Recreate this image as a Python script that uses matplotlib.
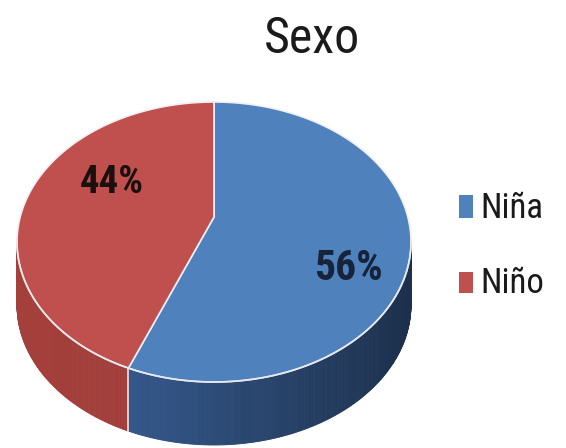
import numpy as np
import matplotlib
matplotlib.use('Agg')
import matplotlib.pyplot as plt
from matplotlib.patches import Polygon, Rectangle
from matplotlib.colors import to_rgb
from matplotlib import font_manager as fm

# ---- data ----
title = 'Sexo'
categories = ['Niña', 'Niño']
values = [56, 44]
pct_labels = ['56%', '44%']
top_colors = ['#4F81BD', '#C0504D']
side_light = ['#335688', '#A9433F']
side_dark = ['#1C304C', '#8A2E2B']

# pick the narrowest available humanist-ish font
_entries = fm.fontManager.ttflist
_names = {f.name for f in _entries}
FONT_KW = {}
for cand in ['Liberation Sans Narrow', 'DejaVu Sans Condensed', 'Roboto Condensed',
             'Open Sans Condensed', 'Noto Sans Display']:
    if cand in _names:
        FONT_KW = dict(family=[cand, 'DejaVu Sans'])
        break
if not FONT_KW:
    if any(f.name == 'DejaVu Sans' and 'Condensed' in f.fname for f in _entries):
        FONT_KW = dict(family=['DejaVu Sans'], stretch='condensed')
    else:
        FONT_KW = dict(family=['Roboto', 'DejaVu Sans'])

W, H = 566, 448
fig = plt.figure(figsize=(5.66, 4.48), dpi=100)
ax = fig.add_axes([0, 0, 1, 1])
ax.set_xlim(0, W)
ax.set_ylim(H, 0)
ax.axis('off')

# perspective pie geometry
cx, cy, a, b = 214, 242, 197, 140
v = (217 - cy) / b
depth = 63


def proj(theta):
    x = np.sin(theta)
    y = -np.cos(theta)
    d = 1 + v * y
    xp = x * np.sqrt(1 - v * v) / d
    yp = (y + v) / d
    return cx + a * xp, cy + b * yp


def mix(c1, c2, f):
    c1 = np.array(to_rgb(c1)); c2 = np.array(to_rgb(c2))
    return tuple(c1 + (c2 - c1) * f)


total = float(sum(values))
bounds = np.concatenate([[0], np.cumsum(values) / total]) * 2 * np.pi

# sides
for i in range(len(values)):
    th = np.linspace(bounds[i], bounds[i + 1], 400)
    X, Y = proj(th)
    m = Y >= cy
    Xs, Ys = X[m], Y[m]
    for j in range(len(Xs) - 1):
        f = (0.5 * (Xs[j] + Xs[j + 1]) - (cx - a)) / (2 * a)
        if i == 0:
            col = mix(side_light[i], side_dark[i], min(1, max(0, (f - 0.3) / 0.7)))
        else:
            col = mix(side_light[i], side_dark[i], 0.15 + 0.3 * f)
        quad = [(Xs[j], Ys[j]), (Xs[j + 1], Ys[j + 1]),
                (Xs[j + 1], Ys[j + 1] + depth), (Xs[j], Ys[j] + depth)]
        ax.add_patch(Polygon(quad, closed=True, facecolor=col, edgecolor=col, lw=0.6))

# vertical seam on side at slice boundary
for bd in bounds[1:-1]:
    bx, by = proj(np.array([bd]))
    if by[0] >= cy:
        ax.plot([bx[0], bx[0]], [by[0], by[0] + depth], color='#E8E8F0', lw=1.2)

# top faces
pcx, pcy = cx, cy + b * v
for i in range(len(values)):
    th = np.linspace(bounds[i], bounds[i + 1], 400)
    X, Y = proj(th)
    pts = [(pcx, pcy)] + list(zip(X, Y))
    ax.add_patch(Polygon(pts, closed=True, facecolor=top_colors[i],
                         edgecolor='#F0F0F5', lw=1.2, joinstyle='round'))

# light seam along front rim
th = np.linspace(0, 2 * np.pi, 800)
X, Y = proj(th)
m = Y >= cy - 5
order = np.argsort(X[m])
ax.plot(X[m][order], Y[m][order], color='#E6E9F0', lw=1.2, alpha=0.9)

renderer = fig.canvas.get_renderer()


def fitted_text(x, y, s, width, cap, color, ha, weight):
    t = ax.text(x, y, s, fontsize=10, color=color, ha=ha, va='baseline',
                fontweight=weight, **FONT_KW)
    w10 = t.get_window_extent(renderer).width
    size_w = 10 * width / w10
    size_h = cap / (0.72 * 100 / 72)
    t.set_fontsize(min(size_h, size_w * 1.08))
    return t


# percentage labels
fitted_text(348, 280, pct_labels[0], 67, 30, '#16233A', 'center', 'semibold')
fitted_text(112, 193, pct_labels[1], 60, 30, '#1A1010', 'center', 'semibold')

# title
fitted_text(312, 53, title, 89, 40, '#1A1A1A', 'center', 'normal')

# legend
leg_y = [(195, 218), (272, 293)]
for i, cat in enumerate(categories):
    y0, y1 = leg_y[i]
    ax.add_patch(Rectangle((459, y0), 14, y1 - y0, facecolor=top_colors[i],
                           edgecolor='none'))
    fitted_text(480, y1, cat, 70, 25, '#1A1A1A', 'left', 'normal')

fig.savefig('out.png', dpi=100, facecolor='white')
